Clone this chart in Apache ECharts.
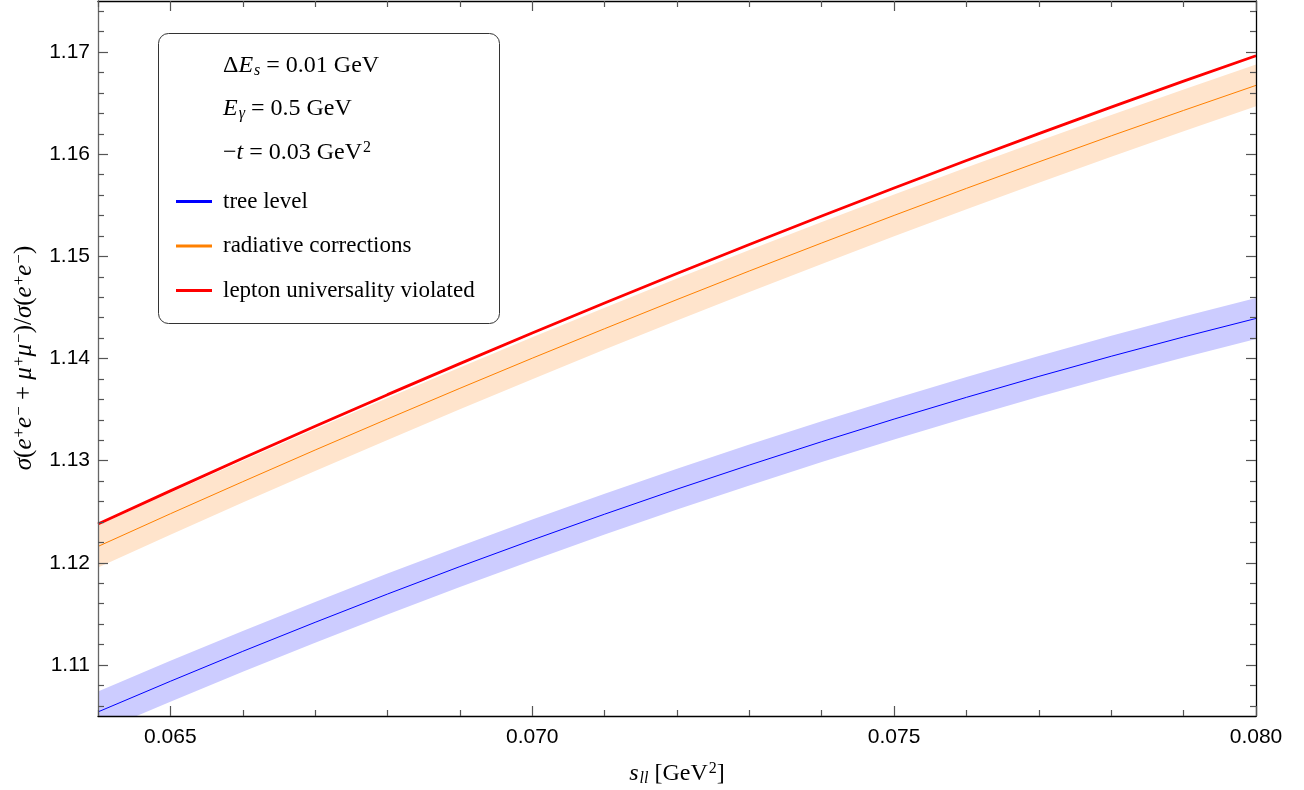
<!DOCTYPE html>
<html>
<head>
<meta charset="utf-8">
<script src="https://cdn.jsdelivr.net/npm/echarts@6/dist/echarts.min.js"></script>
<style>
html,body{margin:0;padding:0;background:#fff;}
#chart{width:1304px;height:790px;}
</style>
</head>
<body>
<div id="chart"></div>
<script>
// ---- data ----
const sll = [0.064,0.065,0.066,0.067,0.068,0.069,0.070,0.071,0.072,0.073,0.074,0.075,0.076,0.077,0.078,0.079,0.080];

const treeLevel = [1.10540,1.10840,1.11133,1.11417,1.11694,1.11963,1.12223,1.12476,1.12721,1.12957,1.13186,1.13407,1.13620,1.13825,1.14022,1.14211,1.14392];
const treeLow   = [1.10340,1.10640,1.10933,1.11217,1.11494,1.11763,1.12023,1.12276,1.12521,1.12757,1.12986,1.13207,1.13420,1.13625,1.13822,1.14011,1.14192];
const treeHigh  = [1.10740,1.11040,1.11333,1.11617,1.11894,1.12163,1.12423,1.12676,1.12921,1.13157,1.13386,1.13607,1.13820,1.14025,1.14222,1.14411,1.14592];

const radCorr   = [1.12160,1.12480,1.12794,1.13104,1.13408,1.13708,1.14003,1.14292,1.14577,1.14857,1.15131,1.15401,1.15666,1.15925,1.16180,1.16429,1.16674];
const radLow    = [1.11955,1.12275,1.12589,1.12899,1.13203,1.13503,1.13798,1.14087,1.14372,1.14652,1.14926,1.15196,1.15461,1.15720,1.15975,1.16224,1.16469];
const radHigh   = [1.12365,1.12685,1.12999,1.13309,1.13613,1.13913,1.14208,1.14497,1.14782,1.15062,1.15336,1.15606,1.15871,1.16130,1.16385,1.16634,1.16879];

const luViolated = [1.12380,1.12704,1.13023,1.13337,1.13646,1.13950,1.14249,1.14543,1.14832,1.15116,1.15395,1.15669,1.15938,1.16202,1.16461,1.16715,1.16964];

const xMajor = [0.065,0.070,0.075,0.080];
const xMinor = [0.064,0.066,0.067,0.068,0.069,0.071,0.072,0.073,0.074,0.076,0.077,0.078,0.079];
const yMajor = [1.11,1.12,1.13,1.14,1.15,1.16,1.17];
const yMinor = [1.106,1.108,1.112,1.114,1.116,1.118,1.122,1.124,1.126,1.128,1.132,1.134,1.136,1.138,1.142,1.144,1.146,1.148,1.152,1.154,1.156,1.158,1.162,1.164,1.166,1.168,1.172,1.174];

const seriesNames = ['tree level','radiative corrections','lepton universality violated'];

// ---- helpers ----
const pairs = (ys) => sll.map((x,i)=>[x, ys[i]]);

const SERIF = '"Liberation Serif","DejaVu Serif",serif';
const SANS = '"Liberation Sans",Arial,Helvetica,sans-serif';
function mkRich(fs, sfs) {
  return {
    r:   {fontFamily: SERIF, fontSize: fs, color:'#000', lineHeight: 30, verticalAlign:'middle'},
    i:   {fontFamily: SERIF, fontSize: fs, fontStyle:'italic', color:'#000', lineHeight: 30, verticalAlign:'middle'},
    sup: {fontFamily: SERIF, fontSize: sfs, color:'#000', lineHeight: 30, verticalAlign:'top', padding:[2,0,0,1]},
    sub: {fontFamily: SERIF, fontSize: sfs, fontStyle:'italic', color:'#000', lineHeight: 30, verticalAlign:'bottom', padding:[0,0,2,1]}
  };
}
const rich = mkRich(24, 16);
const richY = mkRich(25, 17);

const tickColor = '#555';
function mkX(pos, vals, len, showLine, showLabel, lineColor) {
  return {
    type:'value', position: pos, min: 0.064, max: 0.080, z: 5,
    axisLine: {show: showLine, onZero:false, lineStyle:{color: lineColor || '#000', width: 1.3}},
    axisTick: {show: true, inside: true, length: len, customValues: vals, lineStyle:{color: tickColor, width: 1.2}},
    axisLabel: showLabel ? {show:true, customValues: vals, formatter: v => v.toFixed(3), fontFamily: SANS, fontSize: 21, color:'#000', margin: 11} : {show:false},
    splitLine: {show:false}
  };
}
function mkY(pos, vals, len, showLine, showLabel, lineColor) {
  return {
    type:'value', position: pos, min: 1.105, max: 1.175, z: 5,
    axisLine: {show: showLine, onZero:false, lineStyle:{color: lineColor || '#000', width: 1.3}},
    axisTick: {show: true, inside: true, length: len, customValues: vals, lineStyle:{color: tickColor, width: 1.2}},
    axisLabel: showLabel ? {show:true, customValues: vals, formatter: v => v.toFixed(2), fontFamily: SANS, fontSize: 21, color:'#000', margin: 8} : {show:false},
    splitLine: {show:false}
  };
}

const xAxes = [
  Object.assign(mkX('bottom', xMajor, 10, true, true, '#000'), {
    name: '{i|s}{sub|ll}{r| [GeV}{sup|2}{r|]}',
    nameLocation:'middle', nameGap: 43,
    nameTextStyle: {rich: rich}
  }),
  mkX('bottom', xMinor, 6, false, false),
  mkX('top', xMajor, 10, true, false, '#000'),
  mkX('top', xMinor, 6, false, false)
];
const yAxes = [
  mkY('left', yMajor, 10, true, true, '#666'),
  mkY('left', yMinor, 6, false, false),
  mkY('right', yMajor, 10, true, false, '#000'),
  mkY('right', yMinor, 6, false, false)
];

// band drawn as one polygon through the library's coordinate mapping
function bandSeries(name, lo, hi, color) {
  return {
    name: name, type:'custom', coordinateSystem:'cartesian2d', xAxisIndex:0, yAxisIndex:0,
    silent: true, z: 1,
    data: sll.map((x,i)=>[x, lo[i], hi[i]]),
    encode: {x:0, y:[1,2]},
    renderItem: function(params, api) {
      if (params.dataIndex !== 0) return null;
      const pts = [];
      for (let i = 0; i < sll.length; i++) pts.push(api.coord([sll[i], hi[i]]));
      for (let i = sll.length - 1; i >= 0; i--) pts.push(api.coord([sll[i], lo[i]]));
      const cs = params.coordSys;
      return {
        type:'polygon', shape:{points: pts},
        style:{fill: color, stroke: null},
        clipPath: {type:'rect', shape:{x: cs.x, y: cs.y, width: cs.width, height: cs.height}}
      };
    }
  };
}

const option = {
  animation: false,
  backgroundColor: '#fff',
  grid: {left: 98, right: 48, top: 1, bottom: 74, containLabel: false, outerBoundsMode: 'none'},
  xAxis: xAxes,
  yAxis: yAxes,
  legend: {
    data: seriesNames,
    orient: 'vertical',
    left: 176, top: 189.5, z: 10, padding: 0,
    itemWidth: 36, itemHeight: 3,
    itemGap: 20.5,
    icon: 'rect',
    selectedMode: false,
    textStyle: {fontFamily: SERIF, fontSize: 23, color:'#000', lineHeight: 24, padding:[0,0,0,6]}
  },
  graphic: [
    {type:'rect', z: 1, shape:{x:158.5, y:33.5, width:341, height:290, r:10}, style:{fill:'#fff', stroke:'#333', lineWidth:1}},
    {type:'text', z: 6, x: 223, y: 66, style:{text:'{r|Δ}{i|E}{sub|s}{r| = 0.01 GeV}', rich: rich, verticalAlign:'middle', align:'left'}},
    {type:'text', z: 6, x: 223, y: 109, style:{text:'{i|E}{sub|γ}{r| = 0.5 GeV}', rich: rich, verticalAlign:'middle', align:'left'}},
    {type:'text', z: 6, x: 223, y: 153, style:{text:'{r|−}{i|t}{r| = 0.03 GeV}{sup|2}', rich: rich, verticalAlign:'middle', align:'left'}},
    {type:'text', z: 6, x: 24, y: 358, rotation: Math.PI/2,
      style:{text:'{i|σ}{r|(}{i|e}{sup|+}{i|e}{sup|−}{r| + }{i|μ}{sup|+}{i|μ}{sup|−}{r|)/}{i|σ}{r|(}{i|e}{sup|+}{i|e}{sup|−}{r|)}', rich: richY, align:'center', verticalAlign:'middle'}}
  ],
  series: [
    bandSeries('radiative band', radLow, radHigh, '#ffe4cc'),
    bandSeries('tree band', treeLow, treeHigh, '#ccccff'),
    {name: seriesNames[0], type:'line', data: pairs(treeLevel), symbol:'none', z:3,
     itemStyle:{color:'#0000ff'}, lineStyle:{color:'#0000ff', width:1}},
    {name: seriesNames[1], type:'line', data: pairs(radCorr), symbol:'none', z:3,
     itemStyle:{color:'#ff8000'}, lineStyle:{color:'#ff8000', width:1}},
    {name: seriesNames[2], type:'line', data: pairs(luViolated), symbol:'none', z:4,
     itemStyle:{color:'#ff0000'}, lineStyle:{color:'#ff0000', width:2.8}}
  ]
};

const chart = echarts.init(document.getElementById('chart'));
chart.setOption(option);
</script>
</body>
</html>
